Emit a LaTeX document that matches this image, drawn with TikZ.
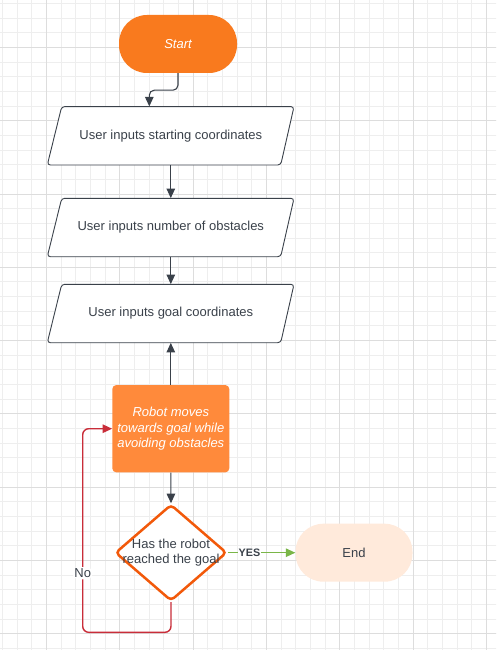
\documentclass[tikz,border=0pt]{standalone}
\usepackage{fontspec}
\setmainfont{Liberation Sans}
\usetikzlibrary{shapes.geometric,arrows.meta,calc}
\definecolor{startorange}{HTML}{F97A1E}
\definecolor{boxorange}{HTML}{FF8A3B}
\definecolor{diamondorange}{HTML}{F2590A}
\definecolor{endpeach}{HTML}{FFEADB}
\definecolor{linegray}{HTML}{3A414A}
\definecolor{textgray}{HTML}{3A414A}
\definecolor{loopred}{HTML}{C92D39}
\definecolor{yesgreen}{HTML}{7AB648}
\definecolor{gridminor}{HTML}{EEEEEE}
\definecolor{gridmajor}{HTML}{DDDDDD}
\tikzset{
every node/.style={font=\fontsize{13}{15}\selectfont, text=textgray},
terminal/.style={rectangle, rounded corners=28, minimum width=118, minimum height=58, inner sep=0},
inputtext/.style={rectangle, minimum width=232, minimum height=58.4, inner sep=0},
inputline/.style={draw=linegray, fill=white, line width=0.9pt, rounded corners=3},
process/.style={rectangle, rounded corners=4, fill=boxorange, minimum width=117, minimum height=87.3, inner sep=0, align=center, text=white, font=\fontsize{13}{15.5}\selectfont\itshape},
decision/.style={diamond, draw=diamondorange, line width=2.5pt, rounded corners=4, fill=white, minimum width=111.5, minimum height=96.5, inner sep=0},
flow/.style={draw=linegray, line width=1.1pt, -{Triangle[length=9.5pt,width=8.5pt]}}
}
\def\drawInput{
\coordinate (Q1) at (-109.1,-29.2);
\coordinate (Q2) at (123.2,-29.2);
\coordinate (Q3) at (109.9,29.2);
\coordinate (Q4) at (-123.5,29.2);
\draw[inputline] (Q1) -- (Q2) -- (Q3) -- (Q4) -- cycle;
}
\begin{document}
\begin{tikzpicture}[x=1pt,y=-1pt]
\useasboundingbox (0,0) rectangle (496,650);
\fill[white] (0,0) rectangle (496,650);
\begin{scope}
\clip (0,0) rectangle (496,650);
\draw[gridminor, line width=0.75pt, shift={(2.42,3.32)}, step=14.66pt] (-20pt,20pt) grid (520pt,-670pt);
\draw[gridmajor, line width=0.75pt, shift={(46.4,47.3)}, step=73.3pt] (-80pt,80pt) grid (520pt,-700pt);
\end{scope}
\begin{scope}[shift={(170.8,135.8)}]
\drawInput
\end{scope}
\begin{scope}[shift={(170.8,227.5)}]
\drawInput
\end{scope}
\begin{scope}[shift={(170.8,313.5)}]
\drawInput
\end{scope}
\node[terminal, fill=startorange, text=white, font=\fontsize{13}{15}\selectfont\itshape] (start) at (178,44) {Start};
\node[inputtext] (in1) at (170.8,135.8) {User inputs starting coordinates};
\node[inputtext] (in2) at (170.8,227.5) {User inputs number of obstacles};
\node[inputtext] (in3) at (170.8,313.5) {User inputs goal coordinates};
\node[process] (robot) at (170.8,428.7) {Robot moves\\towards goal while\\avoiding obstacles};
\node[decision, label={[align=center, text=textgray]center:Has the robot\\reached the goal}] (goal) at (171,552.7) {};
\node[terminal, fill=endpeach, minimum width=117] (end) at (354,552.7) {End};
\coordinate (loop) at (82.7,632.3);
\draw[flow, rounded corners=5] (start.south) -- ++(0,17) -| ([xshift=-21.5]in1.north);
\draw[flow] (in1.south) -- (in2.north);
\draw[flow] (in2.south) -- (in3.north);
\draw[flow] (robot.north) -- (in3.south);
\draw[flow] (robot.south) -- (goal.north);
\draw[flow, draw=yesgreen] (goal.east) -- node[pos=0.32, fill=white, inner sep=1, font=\fontsize{10.8}{12}\selectfont\bfseries] {YES} (end.west);
\draw[flow, draw=loopred, line width=1.4pt, rounded corners=6] (goal.south) |- (loop) |- node[pos=0.145, fill=white, inner sep=1.5] {No} (robot.west);
\end{tikzpicture}
\end{document}
